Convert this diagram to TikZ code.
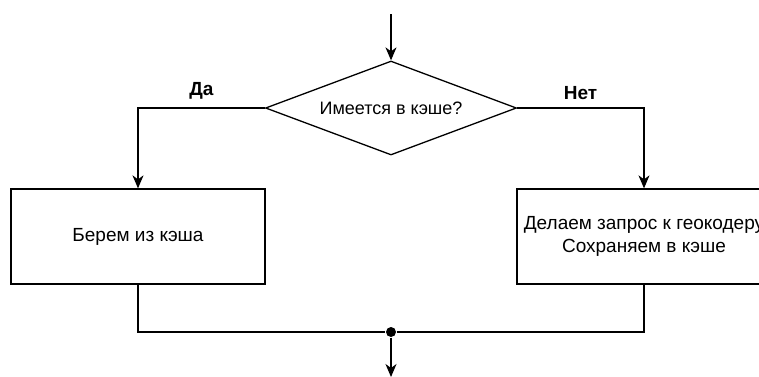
\documentclass[tikz,border=0pt]{standalone}
\usepackage{fontspec}
\setmainfont{Liberation Sans}
\usetikzlibrary{shapes.geometric,arrows.meta}

\begin{document}
\begin{tikzpicture}[x=1pt,y=-1pt,line width=1.3pt,
  every node/.style={inner sep=0pt,font=\fontsize{19}{22.5}\selectfont},
  check/.style={draw,diamond,aspect=2.67,minimum width=251pt,minimum height=94pt,font=\fontsize{18}{22}\selectfont},
  block/.style={draw,rectangle,minimum width=254pt,minimum height=95pt,align=center},
  branch/.style={font=\fontsize{19}{22}\selectfont\bfseries},
  arr/.style={-{Stealth[length=13pt,width=11pt,inset=4pt]}}]
\useasboundingbox (0,0) rectangle (759,376);
\clip (0,0) rectangle (759,376);
% nodes
\coordinate (start) at (391,14);
\node [check] (cache) at (391,108) {Имеется в кэше?};
\node [block] (hit) at (138,236.5) {Берем из кэша};
\node [block] (miss) at (644,236.5) {Делаем запрос к геокодеру\\Сохраняем в кэше};
\node [circle,fill,minimum size=10pt] (join) at (391,332) {};
\coordinate (end) at (391,377);
% connectors
\draw [arr] (start) -- (cache);
\draw [arr] (cache.west) -| (hit.north) node [pos=0.25,above=8pt,branch] {Да};
\draw [arr] (cache.east) -| (miss.north) node [pos=0.25,above=8pt,branch] {Нет};
\draw (hit.south) |- (join) -| (miss.south);
\draw [arr] (join) -- (end);
\end{tikzpicture}
\end{document}
